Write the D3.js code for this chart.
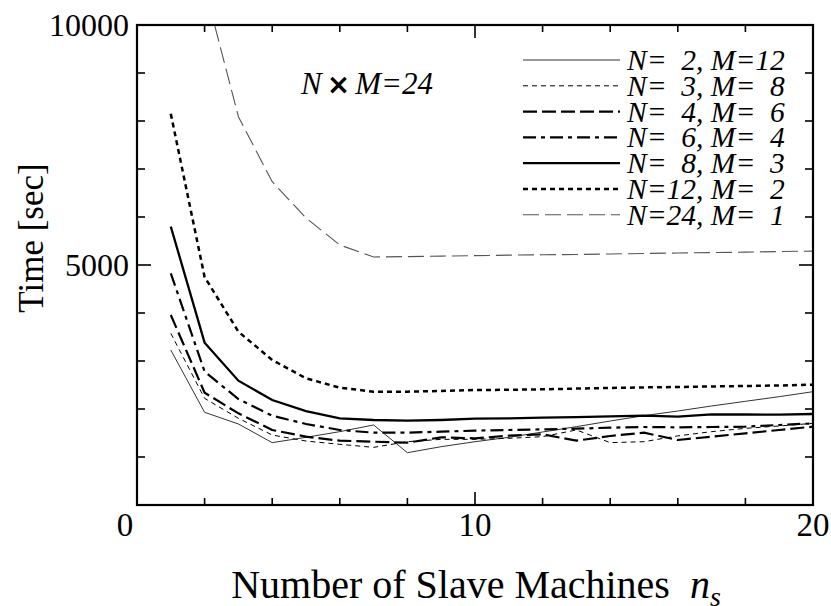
<!DOCTYPE html>
<html><head><meta charset="utf-8">
<script src="https://cdn.jsdelivr.net/npm/d3@7"></script>
<style>body{margin:0;background:#fff}svg{display:block}text{font-family:"Liberation Serif","Times New Roman",serif}</style>
</head><body>
<svg id="c" width="831" height="606"></svg>
<script>
const machines = [1,2,3,4,5,6,7,8,9,10,11,12,13,14,15,16,17,18,19,20];
const n2m12 = [3229,1931,1688,1299,1410,1528,1667,1090,1215,1319,1410,1521,1632,1750,1861,1958,2063,2160,2257,2361];
const n3m8  = [3576,2222,1806,1458,1333,1264,1201,1319,1368,1368,1389,1424,1563,1299,1319,1440,1528,1597,1646,1701];
const n4m6  = [3958,2340,1910,1563,1424,1340,1319,1299,1410,1389,1444,1472,1340,1438,1507,1354,1424,1493,1563,1632];
const n6m4  = [4826,2778,2208,1861,1688,1563,1507,1507,1528,1549,1563,1576,1590,1611,1625,1618,1625,1632,1667,1701];
const n8m3  = [5800,3382,2590,2188,1958,1806,1771,1757,1771,1799,1805,1819,1830,1845,1861,1840,1889,1885,1882,1896];
const n12m2 = [8150,4750,3611,3021,2639,2444,2361,2361,2375,2396,2400,2410,2425,2438,2450,2458,2470,2479,2490,2507];
const n24m1 = [14000,10800,8090,6735,5980,5417,5167,5175,5185,5195,5205,5212,5220,5230,5240,5250,5258,5268,5280,5290];
const seriesLabels = ["N=  2, M=12","N=  3, M=  8","N=  4, M=  6","N=  6, M=  4","N=  8, M=  3","N=12, M=  2","N=24, M=  1"];
const seriesValues = [n2m12,n3m8,n4m6,n6m4,n8m3,n12m2,n24m1];
const styles = [
  {w:1, dash:null, c:"#333"},
  {w:1, dash:"5,4", c:"#000"},
  {w:2.2, dash:"14,5", c:"#000"},
  {w:2.2, dash:"13,5,4,5", c:"#000"},
  {w:2.3, dash:null, c:"#000"},
  {w:2.5, dash:"5,4", c:"#000"},
  {w:1.1, dash:"16,6", c:"#555"}
];
const xMajor = [0,10,20], xMinor = [2,4,6,8,12,14,16,18];
const yMajor = [0,5000,10000], yMinor = [1000,2000,3000,4000,6000,7000,8000,9000];

const L=137, R=813, T=25, B=505;
const x = d3.scaleLinear().domain([0,20]).range([L,R]);
const y = d3.scaleLinear().domain([0,10000]).range([B,T]);
const svg = d3.select("#c");

svg.append("clipPath").attr("id","clip").append("rect").attr("x",L).attr("y",T).attr("width",R-L).attr("height",B-T);

const line = d3.line().x((d,i)=>x(machines[i])).y(d=>y(d));
const g = svg.append("g").attr("clip-path","url(#clip)");
seriesValues.forEach((vals,k)=>{
  const s = styles[k];
  g.append("path").attr("d",line(vals)).attr("fill","none").attr("stroke",s.c)
    .attr("stroke-width",s.w).attr("stroke-dasharray",s.dash).attr("stroke-linejoin","miter");
});

// ticks (inward, on all four sides)
const tk = svg.append("g").attr("stroke","#000").attr("stroke-width",1.6);
xMajor.forEach(v=>{ tk.append("line").attr("x1",x(v)).attr("x2",x(v)).attr("y1",B).attr("y2",B-13);
                    tk.append("line").attr("x1",x(v)).attr("x2",x(v)).attr("y1",T).attr("y2",T+13); });
xMinor.forEach(v=>{ tk.append("line").attr("x1",x(v)).attr("x2",x(v)).attr("y1",B).attr("y2",B-7);
                    tk.append("line").attr("x1",x(v)).attr("x2",x(v)).attr("y1",T).attr("y2",T+7); });
yMajor.forEach(v=>{ tk.append("line").attr("y1",y(v)).attr("y2",y(v)).attr("x1",L).attr("x2",L+14);
                    tk.append("line").attr("y1",y(v)).attr("y2",y(v)).attr("x1",R).attr("x2",R-14); });
yMinor.forEach(v=>{ tk.append("line").attr("y1",y(v)).attr("y2",y(v)).attr("x1",L).attr("x2",L+8);
                    tk.append("line").attr("y1",y(v)).attr("y2",y(v)).attr("x1",R).attr("x2",R-8); });

svg.append("rect").attr("x",L).attr("y",T).attr("width",R-L).attr("height",B-T)
  .attr("fill","none").attr("stroke","#000").attr("stroke-width",2.2);

// tick labels
svg.selectAll(".xl").data(xMajor).enter().append("text")
  .attr("x",d=>x(d)+(d===0?-12:0)).attr("y",536).attr("text-anchor","middle")
  .attr("font-size",33).text(d=>d);
svg.selectAll(".yl").data(yMajor.filter(d=>d>0)).enter().append("text")
  .attr("x",129).attr("y",d=>y(d)+11).attr("text-anchor","end")
  .attr("font-size",32).text(d=>d);

// axis titles
const xt = svg.append("text").attr("x",476).attr("y",598).attr("text-anchor","middle").attr("font-size",40);
xt.append("tspan").text("Number of Slave Machines  ").attr("xml:space","preserve").style("white-space","pre");
xt.append("tspan").attr("font-style","italic").text("n");
xt.append("tspan").attr("font-style","italic").attr("font-size",28).attr("dy",8).text("s");

svg.append("text").attr("transform","translate(43,238) rotate(-90)").attr("text-anchor","middle")
  .attr("font-size",35).text("Time [sec]");

// annotation
const an = svg.append("text").attr("x",301).attr("y",94).attr("font-size",31);
an.append("tspan").attr("font-style","italic").text("N");
an.append("tspan").attr("font-family","DejaVu Sans").attr("font-weight","bold").attr("font-size",28).attr("dx",5).text("\u00d7");
an.append("tspan").attr("font-style","italic").attr("dx",5).text("M=24");

// legend
const lg = svg.append("g");
seriesLabels.forEach((lab,k)=>{
  const cy = 60 + k*25.8, s = styles[k];
  lg.append("line").attr("x1",523).attr("x2",620).attr("y1",cy).attr("y2",cy)
    .attr("stroke",s.c).attr("stroke-width",s.w).attr("stroke-dasharray",s.dash);
  lg.append("text").attr("x",627).attr("y",cy+10).attr("font-size",29.5).attr("font-style","italic")
    .style("white-space","pre").attr("xml:space","preserve").text(lab);
});
</script>
</body></html>
